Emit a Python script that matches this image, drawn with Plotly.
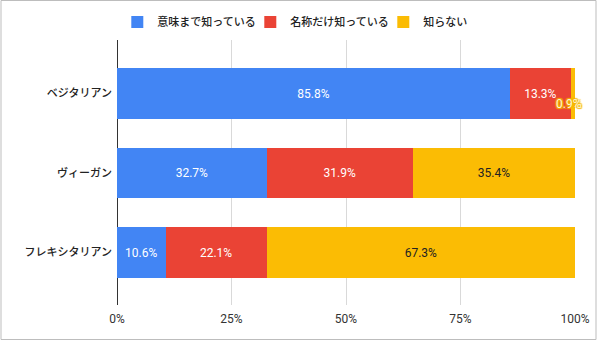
import plotly.graph_objects as go

categories = ["ベジタリアン", "ヴィーガン", "フレキシタリアン"]
series_names = ["意味まで知っている", "名称だけ知っている", "知らない"]
know_meaning = [85.8, 32.7, 10.6]
know_name = [13.3, 31.9, 22.1]
dont_know = [0.9, 35.4, 67.3]
x_ticks = [0, 25, 50, 75, 100]
x_tick_labels = ["0%", "25%", "50%", "75%", "100%"]

colors = ["#4285f4", "#ea4335", "#fbbc04"]
series_values = [know_meaning, know_name, dont_know]
text_colors = ["#ffffff", "#ffffff", "#222222"]

FONT = "Roboto, 'Noto Sans CJK JP', sans-serif"

fig = go.Figure()
for name, vals, col, tcol in zip(series_names, series_values, colors, text_colors):
    positions = ["inside" if v >= 5 else "none" for v in vals]
    fig.add_trace(go.Bar(
        name=name,
        y=categories,
        x=vals,
        orientation="h",
        marker=dict(color=col, line=dict(width=0)),
        width=0.64,
        text=[f"{v:.1f}%" for v in vals],
        textposition=positions,
        insidetextanchor="middle",
        textfont=dict(family=FONT, size=12, color=tcol),
        insidetextfont=dict(family=FONT, size=12, color=tcol),
        constraintext="none",
        hoverinfo="skip",
    ))

# small-segment label that overflows the bar
for i, v in enumerate(dont_know):
    if v < 5:
        total = know_meaning[i] + know_name[i] + dont_know[i]
        fig.add_annotation(
            x=total, y=categories[i], xref="x", yref="y",
            text=f"{v:.1f}%", showarrow=False,
            xanchor="center", yanchor="middle", xshift=-6, yshift=-10,
            font=dict(family=FONT, size=12, color="#fff6d6",
                      shadow="1px 1px 1px #f4b400, -1px -1px 1px #f4b400, 1px -1px 1px #f4b400, -1px 1px 1px #f4b400"),
        )

# outer frame
fig.add_shape(type="rect", xref="paper", yref="paper",
              x0=(1 - 117) / 458, x1=(596 - 117) / 458,
              y0=(305 - 339.5) / 265, y1=(305 - 0.5) / 265,
              line=dict(color="#bdbdbd", width=1), fillcolor="rgba(0,0,0,0)", layer="below")

fig.update_layout(
    width=600, height=344,
    margin=dict(l=117, r=25, t=40, b=39, autoexpand=False),
    paper_bgcolor="#ffffff", plot_bgcolor="#ffffff",
    barmode="stack",
    font=dict(family=FONT, size=11, color="#222222"),
    showlegend=True,
    legend=dict(
        orientation="h", xref="container", yref="container",
        x=0.528, xanchor="center", y=1 - 22 / 344, yanchor="middle",
        font=dict(family=FONT, size=11, color="#222222", weight=500),
        entrywidth=88, entrywidthmode="pixels",
        traceorder="normal", itemclick=False, itemdoubleclick=False,
    ),
    xaxis=dict(
        range=[0, 100], tickvals=x_ticks, ticktext=x_tick_labels,
        showgrid=True, gridcolor="#d9d9d9", gridwidth=1,
        zeroline=True, zerolinecolor="#333333", zerolinewidth=1,
        showline=False, ticks="", fixedrange=True, automargin=False,
        ticklabelstandoff=5,
        tickfont=dict(family=FONT, size=12, color="#333333"),
    ),
    yaxis=dict(
        categoryorder="array", categoryarray=categories,
        range=[2.66, -0.673], automargin=False,
        showgrid=False, zeroline=False, showline=False, ticks="",
        ticklabelstandoff=4,
        tickfont=dict(family=FONT, size=11, color="#222222", weight=500),
        fixedrange=True,
    ),
)

fig.write_html("out.html")
